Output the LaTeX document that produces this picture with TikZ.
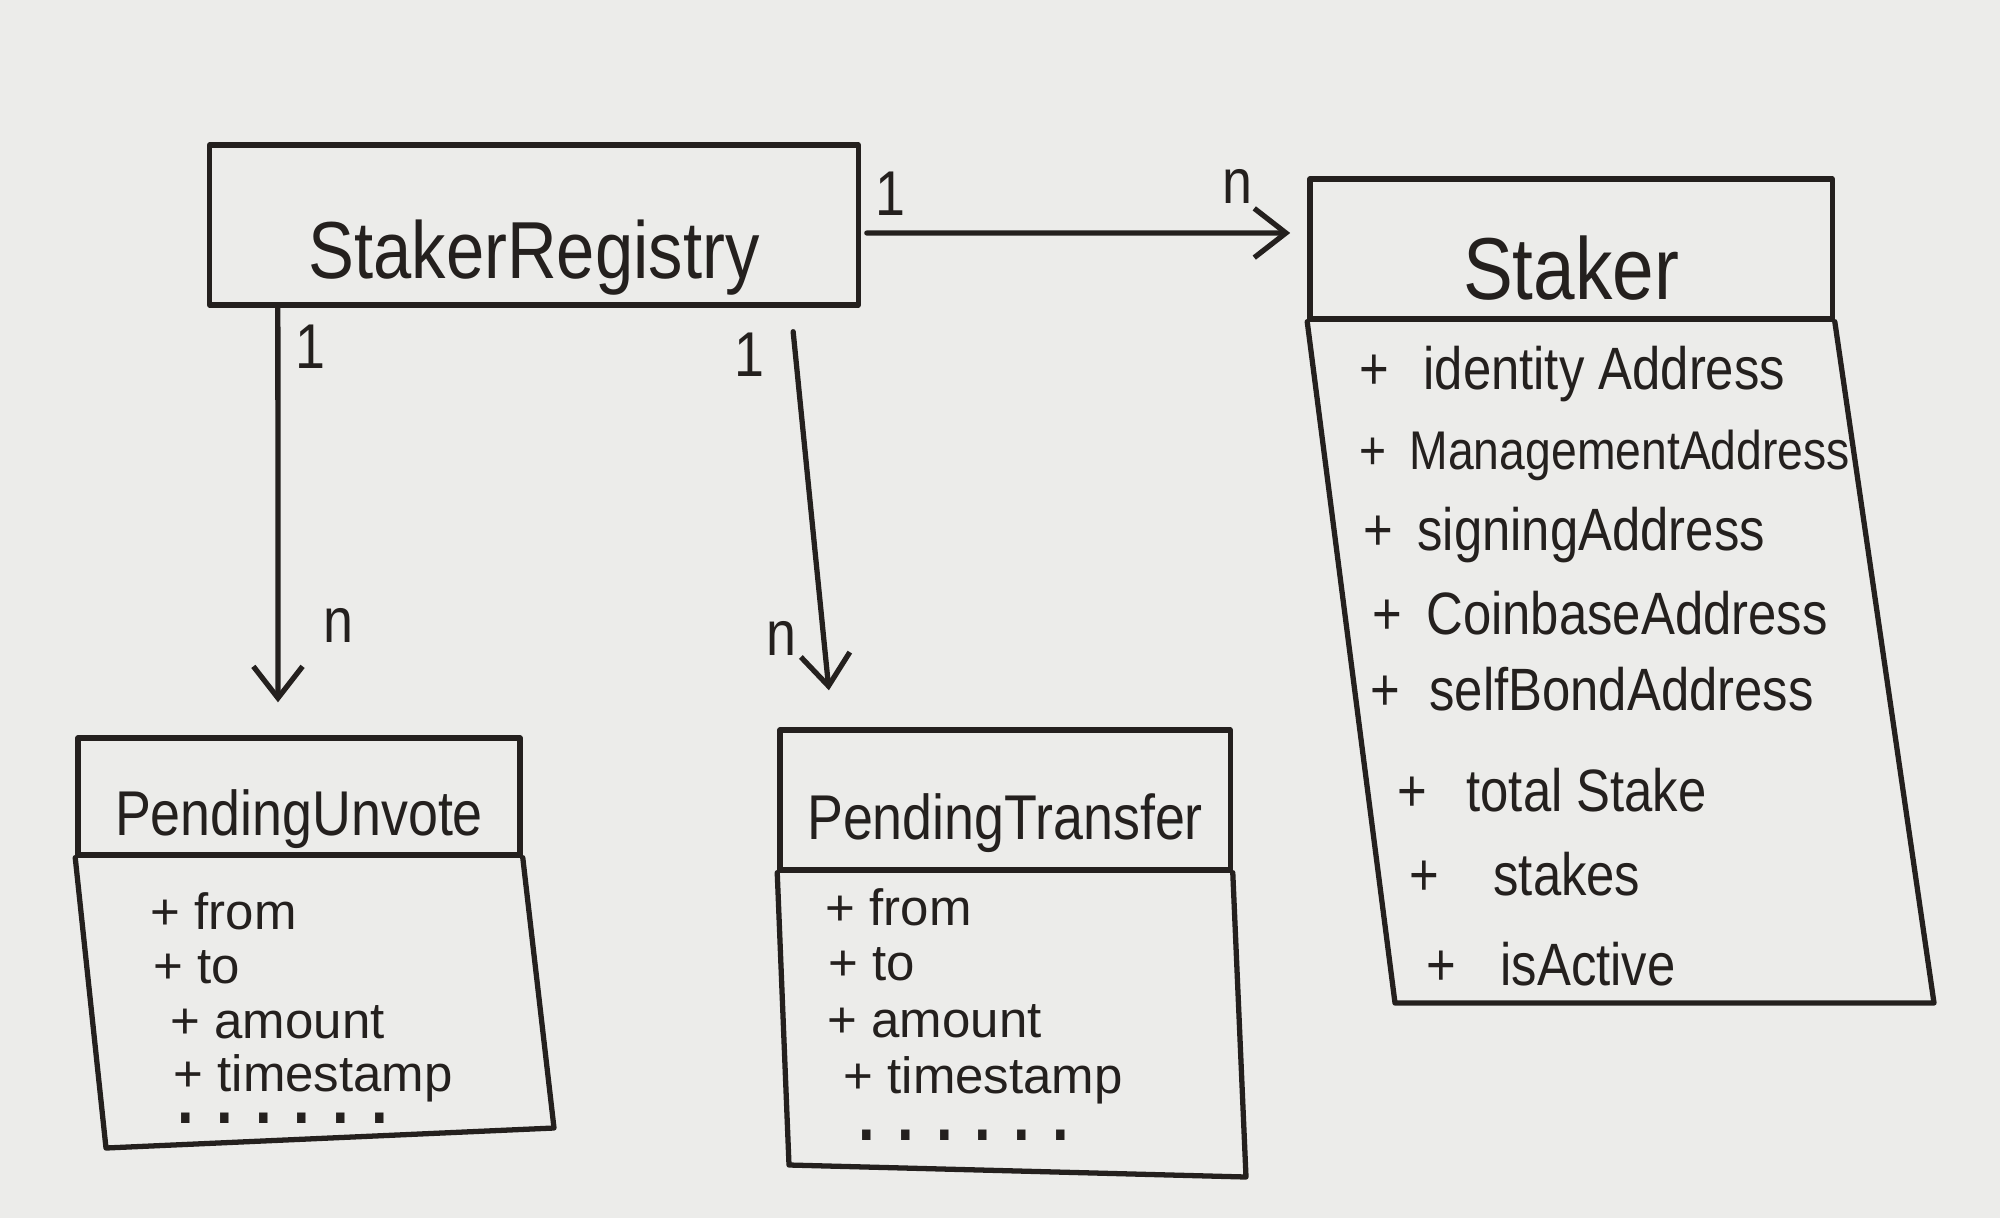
\documentclass[tikz,border=0pt]{standalone}
\usepackage{fontspec}
\setmainfont{Liberation Sans}[FakeStretch=0.85]
\newfontfamily\plainsans{Liberation Sans}
\usetikzlibrary{arrows.meta,calc}
\definecolor{paper}{RGB}{236,236,234}
\definecolor{ink}{RGB}{36,32,30}
\newcommand{\fsz}[1]{\fontsize{#1}{#1}\selectfont}
\newcommand{\lowered}[2]{\raisebox{-#1}[\height][\depth]{#2}}
\begin{document}
\begin{tikzpicture}[x=0.01cm,y=-0.01cm,
  pen/.style={draw=ink,line width=1.5pt,line join=round,line cap=round},
  box/.style={pen,rectangle,inner sep=0pt},
  attr/.style={text=ink,anchor=west,inner sep=0pt,font=\plainsans\fsz{14.5}},
  sattr/.style={text=ink,anchor=west,inner sep=0pt,font=\fsz{17}},
  dots/.style={text=ink,anchor=west,inner sep=0pt,font=\fsz{20}\bfseries},
  mult/.style={text=ink,inner sep=0pt,font=\fsz{18}},
  arr/.style={draw=ink,line width=1.5pt,line cap=round,-{Straight Barb[length=9pt,width=14pt,line width=1.5pt]}}]
\fill[paper] (0,0) rectangle (2000,1218);
\useasboundingbox (0,0) rectangle (2000,1218);

% StakerRegistry
\node[box,minimum width=6.48cm,minimum height=1.6cm,font=\fsz{23},text=ink] (reg) at (534,225) {\lowered{0.33cm}{StakerRegistry}};

% Staker
\node[box,minimum width=5.22cm,minimum height=1.4cm,font=\fsz{25},text=ink] (stkh) at (1571,249) {\lowered{0.19cm}{Staker}};
\coordinate (stkbl) at (1395,1003);
\coordinate (stkbr) at (1934,1003);
\draw[pen] (stkh.south west) -- (stkbl) -- (stkbr) -- (stkh.south east);
\node[sattr] (s1) at (1359,374) {+\hspace{0.2cm} identity Address};
\node[sattr,font=\fsz{15.5}] (s2) at (1359,455) {+\hspace{0.1cm} ManagementAddress};
\node[sattr] (s3) at (1363,535) {+\hspace{0.1cm} signingAddress};
\node[sattr] (s4) at (1372,613) {+\hspace{0.1cm} CoinbaseAddress};
\node[sattr] (s5) at (1370,689) {+\hspace{0.15cm} selfBondAddress};
\node[sattr] (s6) at (1397,790) {+\hspace{0.25cm} total Stake};
\node[sattr] (s7) at (1409,874) {+\hspace{0.4cm} stakes};
\node[sattr] (s8) at (1426,964) {+\hspace{0.3cm} isActive};

% PendingUnvote
\node[box,minimum width=4.42cm,minimum height=1.17cm,font=\fsz{18},text=ink] (pu) at (299,796.5) {\lowered{0.23cm}{PendingUnvote}};
\coordinate (publ) at (106,1148);
\coordinate (pubr) at (554,1128);
\draw[pen] (pu.south west) -- (publ) -- (pubr) -- (pu.south east);
\node[attr] (u1) at (150,911) {+ from};
\node[attr] (u2) at (153,967) {+ to};
\node[attr] (u3) at (170,1022) {+ amount};
\node[attr] (u4) at (173,1078) {+ timestamp};
\node[dots] (u5) at (177,1118) {. . . . . .};

% PendingTransfer
\node[box,minimum width=4.5cm,minimum height=1.4cm,font=\fsz{18},text=ink] (pt) at (1005,800) {\lowered{0.23cm}{PendingTransfer}};
\coordinate (ptbl) at (789,1165);
\coordinate (ptbr) at (1246,1177);
\draw[pen] (pt.south west) -- (ptbl) -- (ptbr) -- (pt.south east);
\node[attr] (t1) at (825,907) {+ from};
\node[attr] (t2) at (828,964) {+ to};
\node[attr] (t3) at (827,1021) {+ amount};
\node[attr] (t4) at (843,1080) {+ timestamp};
\node[dots] (t5) at (858,1135) {. . . . . .};

% connectors
\draw[arr] ([xshift=-2.56cm]reg.south) -- ([xshift=-0.21cm,yshift=0.33cm]pu.north);
\draw[arr] ([xshift=2.59cm,yshift=-0.24cm]reg.south) -- ([xshift=-1.76cm,yshift=0.37cm]pt.north);
\draw[arr] ([xshift=0.06cm,yshift=-0.08cm]reg.east) -- ([xshift=-0.17cm,yshift=0.16cm]stkh.west);

% multiplicities
\node[mult] (m1) at (310,347) {1};
\node[mult] (m2) at (338,625) {n};
\node[mult] (m3) at (749,355) {1};
\node[mult] (m4) at (781,638) {n};
\node[mult] (m5) at (890,194) {1};
\node[mult] (m6) at (1237,186) {n};
\end{tikzpicture}
\end{document}
